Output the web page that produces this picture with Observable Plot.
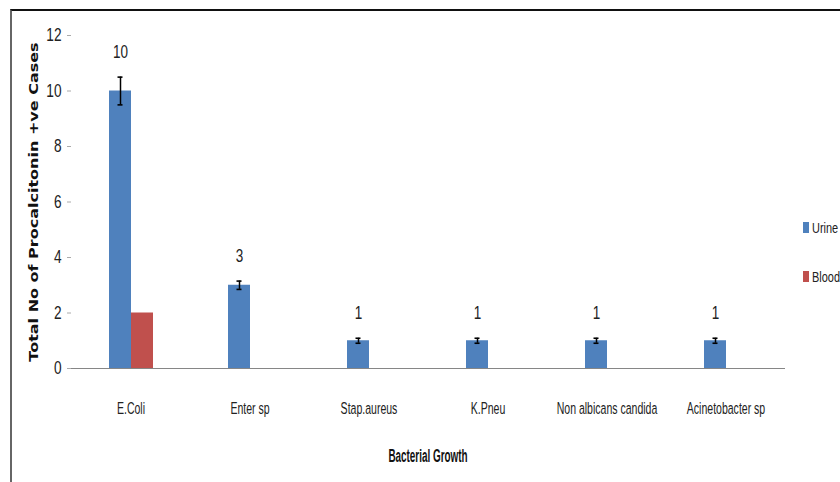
<!DOCTYPE html>
<html><head><meta charset="utf-8">
<script src="https://cdn.jsdelivr.net/npm/d3@7"></script>
<script src="https://cdn.jsdelivr.net/npm/@observablehq/plot@0.6"></script>
<style>
body{margin:0;background:#fff;}
#wrap{position:relative;width:840px;height:482px;overflow:hidden;background:#fff;}
#frame{position:absolute;left:10px;top:9px;width:840px;height:480px;border-top:2px solid #111;border-left:2px solid #666;}
#chart{position:absolute;left:0;top:0;}
.ytitle{position:absolute;left:33px;top:202px;transform:translate(-50%,-50%) rotate(-90deg) scaleX(1.28);font:bold 12.5px "DejaVu Sans",Verdana,sans-serif;white-space:nowrap;color:#111;}
.xtitle{position:absolute;left:428px;top:456px;transform:translate(-50%,-50%) scaleX(0.55);font:bold 18px "Liberation Sans",sans-serif;white-space:nowrap;color:#111;}
.leg{position:absolute;left:803px;height:12px;font:15px "Liberation Sans",sans-serif;color:#222;white-space:nowrap;line-height:12px;}
.leg span.sw{display:inline-block;width:6px;height:11px;vertical-align:top;margin-right:3px;}
.leg span.tx{display:inline-block;transform:scaleX(0.73);transform-origin:left center;}
</style>
</head><body>
<div id="wrap">
  <div id="frame"></div>
  <div id="chart"></div>
  <div class="ytitle">Total No of Procalcitonin +ve Cases</div>
  <div class="xtitle">Bacterial Growth</div>
  <div id="legend"></div>
</div>
<script>
const categories = ["E.Coli", "Enter sp", "Stap.aureus", "K.Pneu", "Non albicans candida", "Acinetobacter sp"];
const series = ["Urine", "Blood"];
const urine = [10, 3, 1, 1, 1, 1];
const blood = [2, 0, 0, 0, 0, 0];
const urineErr = [0.5, 0.15, 0.09, 0.09, 0.09, 0.09];
const yTicks = [0, 2, 4, 6, 8, 10, 12];
const colors = ["#4F81BD", "#C0504D"];

const rows = categories.flatMap((c, i) => [
  {cat: c, series: "Urine", value: urine[i], err: urineErr[i]},
  {cat: c, series: "Blood", value: blood[i], err: 0}
]);
const urineRows = rows.filter(d => d.series === "Urine");
const sans = "'Liberation Sans', Arial, sans-serif";

const chart = Plot.plot({
  width: 840, height: 482,
  marginLeft: 70, marginRight: 55, marginTop: 35, marginBottom: 114,
  style: {background: "transparent", overflow: "visible"},
  fx: {domain: categories, padding: 0, label: null},
  x: {domain: series, paddingInner: 0, paddingOuter: 1.59, axis: null},
  y: {domain: [0, 12], label: null, axis: null},
  color: {domain: series, range: colors},
  marks: [
    Plot.barY(rows, {fx: "cat", x: "series", y: "value", fill: "series"}),
    Plot.ruleY([0], {stroke: "#868686", strokeWidth: 1.2}),
    Plot.ruleX(urineRows, {fx: "cat", x: "series", y1: d => d.value - d.err, y2: d => d.value + d.err, stroke: "#000", strokeWidth: 1.5}),
    Plot.tickY(urineRows, {fx: "cat", x: "series", y: d => d.value + d.err, stroke: "#000", strokeWidth: 1.6, insetLeft: 8.5, insetRight: 8.5}),
    Plot.tickY(urineRows, {fx: "cat", x: "series", y: d => d.value - d.err, stroke: "#000", strokeWidth: 1.6, insetLeft: 8.5, insetRight: 8.5}),
    Plot.text(urineRows, {fx: "cat", x: "series", y: d => d.value + d.err, text: d => String(d.value), dy: -25, fontSize: 18, fontFamily: sans, fill: "#222"}),
    Plot.axisY({ticks: yTicks, tickSize: 4, tickPadding: 6, fontSize: 18, fontFamily: sans, stroke: "#aaa", fill: "#222", line: true, label: null}),
    Plot.axisFx({anchor: "bottom", tickSize: 0, tickPadding: 33, fontSize: 17, fontFamily: sans, fill: "#222", label: null})
  ]
});
document.getElementById("chart").appendChild(chart);

// condensed typeface look: squeeze text horizontally around its anchor
function squeeze(selector, k) {
  chart.querySelectorAll(selector).forEach(t => {
    const tr = t.getAttribute("transform");
    if (tr) t.setAttribute("transform", tr + ` scale(${k},1)`);
  });
}
squeeze('g[aria-label="fx-axis tick label"] text', 0.62);
squeeze('g[aria-label="y-axis tick label"] text', 0.76);
squeeze('g[aria-label="text"] text', 0.75);

const legend = document.getElementById("legend");
const legendTops = [222, 271];
series.forEach((s, i) => {
  const el = document.createElement("div");
  el.className = "leg";
  el.style.top = legendTops[i] + "px";
  el.innerHTML = `<span class="sw" style="background:${colors[i]}"></span><span class="tx">${s}</span>`;
  legend.appendChild(el);
});
</script>
</body></html>
